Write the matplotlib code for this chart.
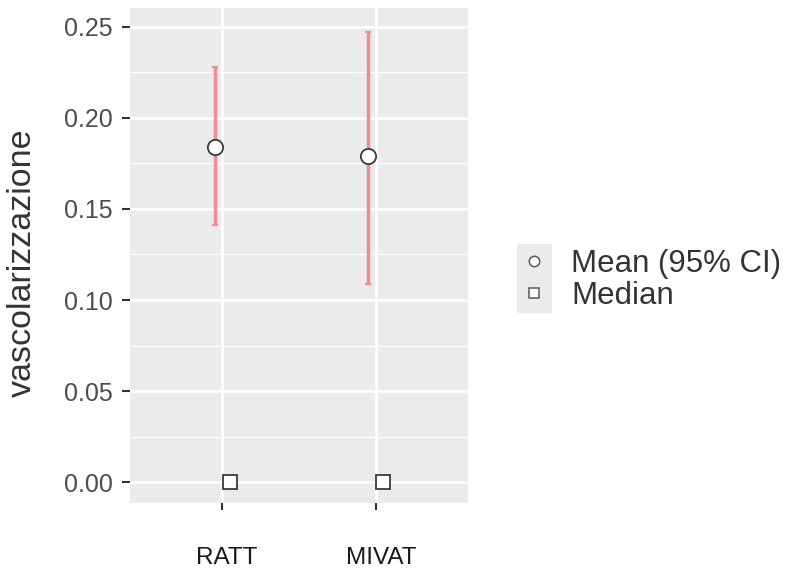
import numpy as np
import matplotlib
matplotlib.use("Agg")
import matplotlib.pyplot as plt
from matplotlib.lines import Line2D
from matplotlib.patches import Rectangle
from matplotlib.transforms import ScaledTranslation

# values
groups = ["RATT", "MIVAT"]
mean_vals = [0.184, 0.179]
ci_low = [0.141, 0.109]
ci_high = [0.228, 0.247]
median_vals = [0.0, 0.0]
y_ticks = [0.00, 0.05, 0.10, 0.15, 0.20, 0.25]

plt.rcParams["font.family"] = ["Liberation Sans", "DejaVu Sans"]

W, H = 795, 578
fig = plt.figure(figsize=(W / 100, H / 100), dpi=100)
ax = fig.add_axes([130 / W, 1 - 503 / H, 338 / W, 495 / H])
ax.set_facecolor("#EBEBEB")
for s in ax.spines.values():
    s.set_visible(False)

x = np.arange(1, len(groups) + 1)
dodge = 0.05
mean_arr = np.array(mean_vals)
yerr = [mean_arr - np.array(ci_low), np.array(ci_high) - mean_arr]

ax.errorbar(x - dodge, mean_vals, yerr=yerr, fmt="none", ecolor="#EE8E93",
            elinewidth=2.5, capsize=2.5, capthick=1.6, zorder=3)
ax.plot(x - dodge, mean_vals, "o", ms=11, mfc="white", mec="#3a3a3a",
        mew=1.3, zorder=4)
ax.plot(x + dodge, median_vals, "s", ms=10, mfc="white", mec="#3a3a3a",
        mew=1.3, zorder=4)

ax.set_xlim(0.4, 2.6)
ax.set_ylim(-0.0115, 0.2604)
ax.set_xticks(x)
ax.set_xticklabels(groups)
ax.set_yticks(y_ticks)
ax.set_yticklabels([f"{v:.2f}" for v in y_ticks])
ax.set_yticks(np.arange(0.025, 0.26, 0.05), minor=True)

ax.grid(which="major", color="white", lw=1.9, zorder=0)
ax.grid(which="minor", axis="y", color="white", lw=0.9, zorder=0)
ax.set_axisbelow(True)

ax.tick_params(axis="y", which="major", length=5.5, width=1.5, color="#333333",
               labelsize=18, labelcolor="#4d4d4d", pad=7)
ax.tick_params(axis="x", which="major", length=5, width=1.5, color="#333333",
               labelsize=17.5, labelcolor="#1a1a1a", pad=27)
ax.tick_params(which="minor", length=0)
for lab in ax.get_xticklabels():
    lab.set_transform(lab.get_transform() + ScaledTranslation(5 / 100, 0, fig.dpi_scale_trans))

ax.set_ylabel("vascolarizzazione", fontsize=24.5, color="#333333")
ax.yaxis.set_label_coords(-0.272, 0.485)

# legend key background like ggplot
fig.add_artist(Rectangle((517 / W, 1 - 313 / H), 35 / W, 69 / H,
                         transform=fig.transFigure, facecolor="#EBEBEB",
                         edgecolor="none", zorder=0))
handles = [
    Line2D([], [], ls="none", marker="o", ms=7.5, mfc="white", mec="#5a5a5a", mew=1.1),
    Line2D([], [], ls="none", marker="s", ms=7.5, mfc="white", mec="#5a5a5a", mew=1.1),
]
fs = 22.5
fig.legend(handles, ["Mean (95% CI)", "Median"], loc="center left",
           bbox_to_anchor=(517 / W, 1 - 280 / H), frameon=False, fontsize=fs,
           handlelength=35 / (fs * 1.389), handletextpad=19 / (fs * 1.389),
           borderpad=0, borderaxespad=0, labelspacing=0.06,
           labelcolor="#333333")

fig.savefig("out.png", dpi=100)
